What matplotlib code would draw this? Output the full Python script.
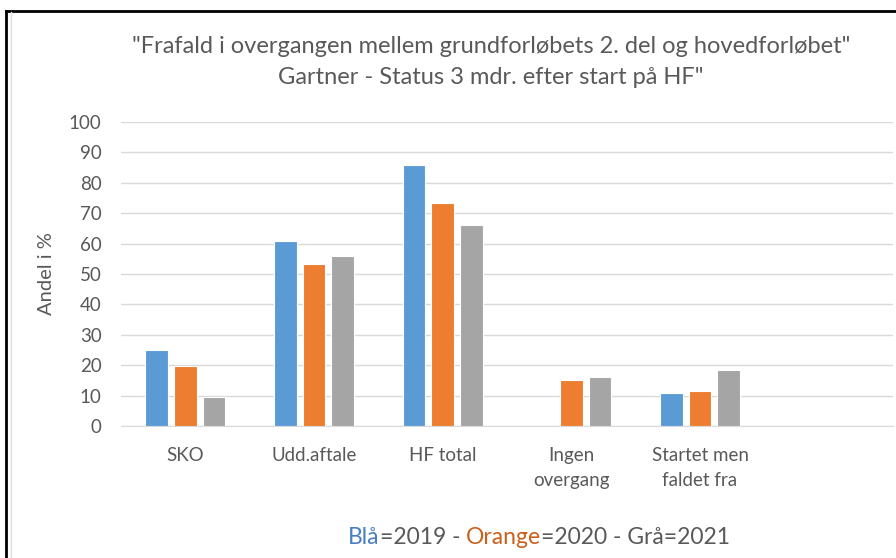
import matplotlib.pyplot as plt
import numpy as np
from matplotlib.lines import Line2D

categories = ["SKO", "Udd.aftale", "HF total", "Ingen\novergang", "Startet men\nfaldet fra"]
values_2019 = [25, 61, 86, np.nan, 10.7]
values_2020 = [19.6, 53.2, 73.3, 15, 11.4]
values_2021 = [9.7, 56, 66, 16.1, 18.4]
series = [("2019", values_2019, "#5B9BD5"),
          ("2020", values_2020, "#ED7D31"),
          ("2021", values_2021, "#A5A5A5")]

title = ('"Frafald i overgangen mellem grundforløbets 2. del og hovedforløbet"\n'
         'Gartner - Status 3 mdr. efter start på HF"')
legend_parts = [("Blå", "#4A7EC4"), ("=2019 - ", "#595959"),
                ("Orange", "#C9601B"), ("=2020 - Grå=2021", "#595959")]

plt.rcParams['font.family'] = ['Lato', 'DejaVu Sans']
txt = "#595959"

fig = plt.figure(figsize=(8.96, 5.58), dpi=100)
ax = fig.add_axes([121 / 896, 1 - 426 / 558, 772 / 896, 304 / 558])

x = np.arange(len(categories))
width = 0.175
step = 0.223
for i, (name, vals, col) in enumerate(series):
    ax.bar(x + (i - 1) * step, vals, width, color=col, edgecolor="white",
           linewidth=0.8, zorder=3)

ax.set_xlim(-0.5, 5.5)
ax.set_ylim(0, 100)
ax.set_yticks(range(0, 101, 10))
ax.set_xticks(x)
ax.set_xticklabels(categories, linespacing=1.6, va="top")
ax.tick_params(axis="both", length=0, labelsize=13.5, colors=txt)
ax.tick_params(axis="y", pad=14)
ax.tick_params(axis="x", pad=15)
ax.grid(axis="y", color="#D9D9D9", linewidth=1, zorder=0)
for s in ["top", "right", "left"]:
    ax.spines[s].set_visible(False)
ax.spines["bottom"].set_color("#D9D9D9")
ax.set_ylabel("Andel i %", fontsize=14.5, color=txt, labelpad=10)

fig.text(491 / 896, 1 - 62 / 558, title, ha="center", va="center",
         fontsize=17, color=txt, linespacing=1.6)

# coloured legend line, pieces chained left to right
pieces = []
prev = None
for t, c in legend_parts:
    if prev is None:
        a = fig.text(348 / 896, 1 - 548 / 558, t, color=c, fontsize=16.5,
                     ha="left", va="bottom")
    else:
        a = ax.annotate(t, xy=(1, 0), xycoords=prev, color=c, fontsize=16.5,
                        ha="left", va="bottom", annotation_clip=False)
    prev = a

# frame lines of the screenshot
fig.add_artist(Line2D([6 / 896, 1], [1 - 11 / 558, 1 - 11 / 558], color="black",
                      linewidth=2, transform=fig.transFigure))
fig.add_artist(Line2D([6 / 896, 6 / 896], [0, 1 - 11 / 558], color="black",
                      linewidth=2, transform=fig.transFigure))
fig.add_artist(Line2D([11 / 896, 11 / 896], [0, 1 - 12 / 558], color="#E0E0E0",
                      linewidth=1, transform=fig.transFigure))

fig.savefig("out.png", dpi=100)
